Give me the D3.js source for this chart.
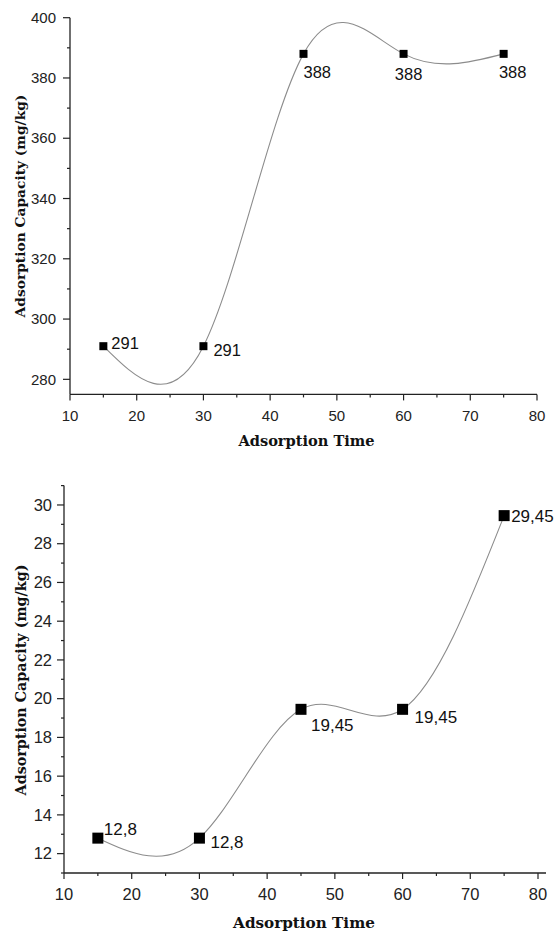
<!DOCTYPE html>
<html>
<head>
<meta charset="utf-8">
<script src="https://cdn.jsdelivr.net/npm/d3@7"></script>
<style>
  body { margin: 0; background: #fff; }
  svg { display: block; }
</style>
</head>
<body>
<div id="chart"></div>
<script>
// data
const times = [15, 30, 45, 60, 75];
const capacityTop = [291, 291, 388, 388, 388];
const capacityBottom = [12.8, 12.8, 19.45, 19.45, 29.45];
const labelsTop = ["291", "291", "388", "388", "388"];
const labelsBottom = ["12,8", "12,8", "19,45", "19,45", "29,45"];
const xTicks = [10, 20, 30, 40, 50, 60, 70, 80];
const xMinor = [15, 25, 35, 45, 55, 65, 75];
const yTicksTop = [280, 300, 320, 340, 360, 380, 400];
const yMinorTop = [290, 310, 330, 350, 370, 390];
const yTicksBottom = [12, 14, 16, 18, 20, 22, 24, 26, 28, 30];
const yMinorBottom = [11, 13, 15, 17, 19, 21, 23, 25, 27, 29, 31];
const xTitle = "Adsorption Time";
const yTitle = "Adsorption Capacity (mg/kg)";

var width = 558, height = 933;

var svg = d3.select("#chart")
  .append("svg")
  .attr("width", width)
  .attr("height", height);

// panel layouts (positions in px)
var panels = [
  {
    values: capacityTop, labels: labelsTop,
    yTicks: yTicksTop, yMinor: yMinorTop,
    xDomain: [10, 80], xRange: [70, 537], xEnd: 537,
    yDomain: [275, 400], yRange: [394.4, 17.7],
    tickFont: 15, labelFont: 16.5, marker: 8, tickGap: 14,
    xTitleY: 441, xTitleFont: 14.6, yTitleX: 20, yTitleCenter: 206, yTitleFont: 13.8,
    // label offsets from the point: [dx, dy, anchor]
    offsets: [[8, -3, "start"], [10, 4, "start"], [0, 18, "start"], [5, 20, "middle"], [9, 18, "middle"]]
  },
  {
    values: capacityBottom, labels: labelsBottom,
    yTicks: yTicksBottom, yMinor: yMinorBottom,
    xDomain: [10, 80], xRange: [64, 538], xEnd: 546,
    yDomain: [11, 31], yRange: [873, 485.6],
    tickFont: 16.5, labelFont: 17, marker: 11, tickGap: 12,
    xTitleY: 923, xTitleFont: 15.2, yTitleX: 21, yTitleCenter: 680, yTitleFont: 14.3,
    offsets: [[6, -9, "start"], [11, 4, "start"], [10, 16, "start"], [12, 8, "start"], [7, 0, "start"]]
  }
];

panels.forEach(function(p) {
  var x = d3.scaleLinear().domain(p.xDomain).range(p.xRange);
  var y = d3.scaleLinear().domain(p.yDomain).range(p.yRange);
  var g = svg.append("g");

  var x0 = p.xRange[0], yBase = p.yRange[0];

  // axis lines
  g.append("line")
    .attr("x1", x0).attr("x2", x0)
    .attr("y1", yBase).attr("y2", p.yRange[1])
    .attr("stroke", "#222").attr("stroke-width", 1.3);
  g.append("line")
    .attr("x1", x0).attr("x2", p.xEnd)
    .attr("y1", yBase).attr("y2", yBase)
    .attr("stroke", "#222").attr("stroke-width", 1.3);

  // x ticks
  g.selectAll(".xmajor").data(xTicks).enter().append("line")
    .attr("x1", d => x(d)).attr("x2", d => x(d))
    .attr("y1", yBase).attr("y2", yBase + 6)
    .attr("stroke", "#222").attr("stroke-width", 1.2);
  g.selectAll(".xminor").data(xMinor).enter().append("line")
    .attr("x1", d => x(d)).attr("x2", d => x(d))
    .attr("y1", yBase).attr("y2", yBase + 3)
    .attr("stroke", "#222").attr("stroke-width", 1.2);
  g.selectAll(".xlab").data(xTicks).enter().append("text")
    .attr("x", d => x(d)).attr("y", yBase + 21)
    .attr("dy", "0.35em")
    .attr("text-anchor", "middle")
    .style("font", p.tickFont + "px 'Liberation Sans', Arial, sans-serif")
    .attr("fill", "#222")
    .text(d => d);

  // y ticks
  g.selectAll(".ymajor").data(p.yTicks).enter().append("line")
    .attr("x1", x0 - 7).attr("x2", x0)
    .attr("y1", d => y(d)).attr("y2", d => y(d))
    .attr("stroke", "#222").attr("stroke-width", 1.2);
  g.selectAll(".yminor").data(p.yMinor).enter().append("line")
    .attr("x1", x0 - 3).attr("x2", x0)
    .attr("y1", d => y(d)).attr("y2", d => y(d))
    .attr("stroke", "#222").attr("stroke-width", 1.2);
  g.selectAll(".ylab").data(p.yTicks).enter().append("text")
    .attr("x", x0 - p.tickGap).attr("y", d => y(d))
    .attr("dy", "0.35em")
    .attr("text-anchor", "end")
    .style("font", p.tickFont + "px 'Liberation Sans', Arial, sans-serif")
    .attr("fill", "#222")
    .text(d => d);

  // titles
  g.append("text")
    .attr("x", (p.xRange[0] + p.xRange[1]) / 2 + 3).attr("y", p.xTitleY)
    .attr("dy", "0.35em")
    .attr("text-anchor", "middle")
    .style("font", "bold " + p.xTitleFont + "px 'DejaVu Serif', serif")
    .attr("fill", "#111")
    .text(xTitle);
  g.append("text")
    .attr("transform", "translate(" + p.yTitleX + "," + p.yTitleCenter + ") rotate(-90)")
    .attr("dy", "0.35em")
    .attr("text-anchor", "middle")
    .style("font", "bold " + p.yTitleFont + "px 'DejaVu Serif', serif")
    .attr("fill", "#111")
    .text(yTitle);

  // smooth line
  var pts = times.map((t, i) => [t, p.values[i]]);
  var line = d3.line()
    .x(d => x(d[0]))
    .y(d => y(d[1]))
    .curve(d3.curveNatural);
  g.append("path")
    .datum(pts)
    .attr("d", line)
    .attr("fill", "none")
    .attr("stroke", "#8c8c8c")
    .attr("stroke-width", 1.1);

  // markers
  g.selectAll(".pt").data(pts).enter().append("rect")
    .attr("x", d => x(d[0]) - p.marker / 2)
    .attr("y", d => y(d[1]) - p.marker / 2)
    .attr("width", p.marker).attr("height", p.marker)
    .attr("fill", "#000");

  // point labels
  g.selectAll(".plab").data(pts).enter().append("text")
    .attr("x", (d, i) => x(d[0]) + p.offsets[i][0])
    .attr("y", (d, i) => y(d[1]) + p.offsets[i][1])
    .attr("dy", "0.35em")
    .attr("text-anchor", (d, i) => p.offsets[i][2])
    .style("font", p.labelFont + "px 'Liberation Sans', Arial, sans-serif")
    .attr("fill", "#111")
    .text((d, i) => p.labels[i]);
});
</script>
</body>
</html>
